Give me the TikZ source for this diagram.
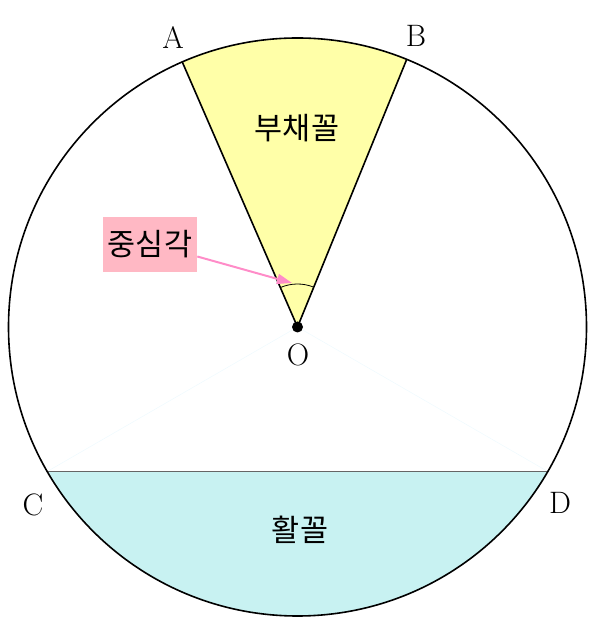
\documentclass[tikz,border=0pt]{standalone}
\usepackage{fontspec}
\newfontfamily\kofont{Noto Sans CJK KR}
\usetikzlibrary{arrows.meta,calc}
\definecolor{sectyellow}{RGB}{255,255,168}
\definecolor{segcyan}{RGB}{200,242,242}
\definecolor{labpink}{RGB}{255,184,196}
\definecolor{arrpink}{RGB}{255,140,200}
\tikzset{
  ptlabel/.style={font=\fontsize{31}{36}\selectfont, inner sep=0pt},
  kolabel/.style={font=\kofont\fontsize{30.5}{35}\selectfont, inner sep=0pt},
  outline/.style={draw=black, line width=1.6pt},
}
\begin{document}
\begin{tikzpicture}[x=1pt,y=1pt]
\useasboundingbox (0,0) rectangle (600,629);
\coordinate (O) at (297.5,302);
\def\R{289}
\coordinate (A) at ($(O)+(113.5:\R)$);
\coordinate (B) at ($(O)+(67.8:\R)$);
\coordinate (C) at ($(O)+(210:\R)$);
\coordinate (D) at ($(O)+(330:\R)$);
% sector
\fill[sectyellow] (O) -- (B) arc[start angle=67.8, end angle=113.5, radius=\R] -- cycle;
% segment
\fill[segcyan] (D) arc[start angle=-30, end angle=-150, radius=\R] -- cycle;
% faint radii
\draw[cyan!6, line width=0.6pt] (C) -- (O) -- (D);
% chord
\draw[gray!80!black, line width=1.4pt] (C) -- (D);
% sector edges
\draw[outline] (A) -- (O) -- (B);
% circle
\draw[outline] (O) circle[radius=\R];
% angle mark
\draw[black, line width=0.8pt] ($(O)+(67.8:43)$) arc[start angle=67.8, end angle=113.5, radius=43];
% center dot
\fill[black] (O) circle[radius=5.5];
% point labels
\node[ptlabel] (lA) at (173,591) {A};
\node[ptlabel] (lB) at (416,593) {B};
\node[ptlabel] (lC) at (33,124) {C};
\node[ptlabel] (lD) at (560,126) {D};
\node[ptlabel] (lO) at (298,274) {O};
% region labels
\node[kolabel] (sec) at (297,501) {부채꼴};
\node[kolabel] (seg) at (300,99) {활꼴};
\node[kolabel, fill=labpink, inner xsep=5pt, inner ysep=13.5pt] (cang) at (150,384.5) {중심각};
\coordinate (arrs) at ([yshift=-12]cang.east);
\coordinate (arrt) at (292,346);
\draw[arrpink, line width=2pt, -{Triangle[length=15pt,width=10pt]}] (arrs) -- (arrt);
\end{tikzpicture}
\end{document}
